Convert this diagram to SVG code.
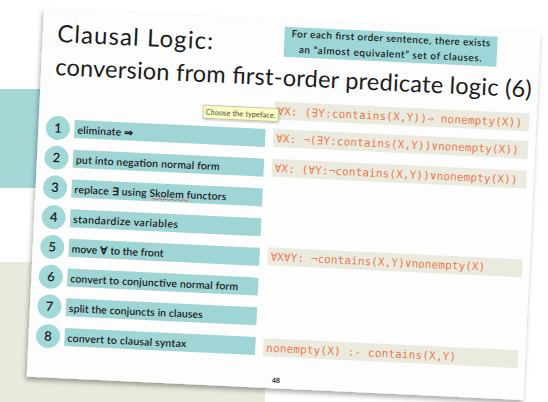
<svg xmlns="http://www.w3.org/2000/svg" width="548" height="402" viewBox="0 0 548 402">
<defs>
<filter id="sh" x="-5%" y="-5%" width="110%" height="112%">
<feDropShadow dx="-1" dy="3" stdDeviation="2.5" flood-color="#000" flood-opacity="0.35"/>
</filter>
<filter id="tsh" x="-10%" y="-20%" width="120%" height="160%">
<feDropShadow dx="0.5" dy="1" stdDeviation="0.8" flood-color="#000" flood-opacity="0.3"/>
</filter>
<style>
.bar{fill:#9fd5d5}
.circ{fill:#a3d8d8}
.code{fill:#ebeadf}
.t{font-family:Lato,"Liberation Sans",sans-serif;fill:#1c1c1c}
.step{font-size:10.5px;font-weight:600}
.num{font-size:13px;font-weight:600;text-anchor:middle}
.mono{font-family:"DejaVu Sans Mono","Liberation Mono",monospace;font-size:11px;fill:#ec7a4c}
</style>
</defs>
<rect x="0" y="0" width="548" height="402" fill="#ffffff"/>
<rect x="0" y="89" width="60" height="99" fill="#a4d7d6"/>
<rect x="0" y="262" width="265" height="140" fill="#e9e9dd"/>
<g transform="translate(44,9) rotate(2.7)">
<rect id="slide" x="0" y="0" width="497" height="368" fill="#fdfdfd" filter="url(#sh)"/>
<g id="title">
<text class="t" x="14.5" y="32.4" font-size="24" textLength="156">Clausal Logic:</text>
<text class="t" x="14" y="65.4" font-size="23.5" textLength="477">conversion from first-order predicate logic (6)</text>
</g>
<g id="callout">
<rect x="241.5" y="6.3" width="213" height="30" fill="#9dd6d6"/>
<text class="t" x="348" y="16.5" font-size="10" font-weight="600" text-anchor="middle" textLength="199">For each first order sentence, there exists</text>
<text class="t" x="348" y="32" font-size="10" font-weight="600" text-anchor="middle" textLength="183">an “almost equivalent” set of clauses.</text>
</g>
<g id="step1"><circle class="circ" cx="19.5" cy="118.3" r="12"/><text class="t num" x="19.5" y="122.8">1</text><rect class="bar" x="36" y="109.4" width="191" height="18"/><text class="t step" x="39" y="123" textLength="56">eliminate ⇒</text></g>
<g id="step2"><circle class="circ" cx="19.5" cy="148" r="12"/><text class="t num" x="19.5" y="152.5">2</text><rect class="bar" x="36" y="139.2" width="191" height="18"/><text class="t step" x="39" y="152.8" textLength="144">put into negation normal form</text></g>
<g id="step3"><circle class="circ" cx="19.5" cy="177.8" r="12"/><text class="t num" x="19.5" y="182.3">3</text><rect class="bar" x="36" y="168.9" width="191" height="18"/><text class="t step" x="39" y="182.5" textLength="152">replace ∃ using Skolem functors</text><path d="M117 184.6 q1.5 -1.2 3 0 t3 0 t3 0 t3 0 t3 0 t3 0 t3 0 t3 0 t3 0 t3 0 t3 0 t3 0" fill="none" stroke="#d9443a" stroke-width="0.7"/></g>
<g id="step4"><circle class="circ" cx="19.5" cy="207.6" r="12"/><text class="t num" x="19.5" y="212.1">4</text><rect class="bar" x="36" y="198.7" width="191" height="18"/><text class="t step" x="39" y="212.3" textLength="105">standardize variables</text></g>
<g id="step5"><circle class="circ" cx="19.5" cy="237.3" r="12"/><text class="t num" x="19.5" y="241.8">5</text><rect class="bar" x="36" y="228.4" width="191" height="18"/><text class="t step" x="39" y="242" textLength="92">move ∀ to the front</text></g>
<g id="step6"><circle class="circ" cx="19.5" cy="267.1" r="12"/><text class="t num" x="19.5" y="271.6">6</text><rect class="bar" x="36" y="258.2" width="191" height="18"/><text class="t step" x="39" y="271.8" textLength="168">convert to conjunctive normal form</text></g>
<g id="step7"><circle class="circ" cx="19.5" cy="296.8" r="12"/><text class="t num" x="19.5" y="301.3">7</text><rect class="bar" x="36" y="287.9" width="191" height="18"/><text class="t step" x="39" y="301.5" textLength="134">split the conjuncts in clauses</text></g>
<g id="step8"><circle class="circ" cx="19.5" cy="326.6" r="12"/><text class="t num" x="19.5" y="331.1">8</text><rect class="bar" x="36" y="317.7" width="191" height="18"/><text class="t step" x="39" y="331.3" textLength="119">convert to clausal syntax</text></g>
<g id="code1"><rect class="code" x="235" y="81.5" width="255" height="18"/><text class="mono" x="238" y="94.8" textLength="245">∀X: (∃Y:contains(X,Y))⇒ nonempty(X))</text></g>
<g id="code2"><rect class="code" x="235" y="109" width="255" height="18"/><text class="mono" x="238" y="122.2" textLength="243">∀X: ¬(∃Y:contains(X,Y))∨nonempty(X))</text></g>
<g id="code3"><rect class="code" x="235" y="138.8" width="255" height="18"/><text class="mono" x="238" y="152" textLength="243">∀X: (∀Y:¬contains(X,Y))∨nonempty(X))</text></g>
<g id="code4"><rect class="code" x="235" y="227.5" width="255" height="18"/><text class="mono" x="238" y="240.6" textLength="215">∀X∀Y: ¬contains(X,Y)∨nonempty(X)</text></g>
<g id="code5"><rect class="code" x="235" y="318.5" width="255" height="18"/><text class="mono" x="238" y="331.8" textLength="190">nonempty(X) :- contains(X,Y)</text></g>
<text class="t" x="245" y="362.5" font-size="7" font-weight="700">48</text>
<g id="tooltip" filter="url(#tsh)"><rect x="164" y="88.5" width="75" height="13" fill="#fdfdc4" stroke="#9a9a80" stroke-width="0.5"/><text class="t" x="166.5" y="97.6" font-size="7.2" textLength="70">Choose the typeface.</text></g>
</g>
</svg>
